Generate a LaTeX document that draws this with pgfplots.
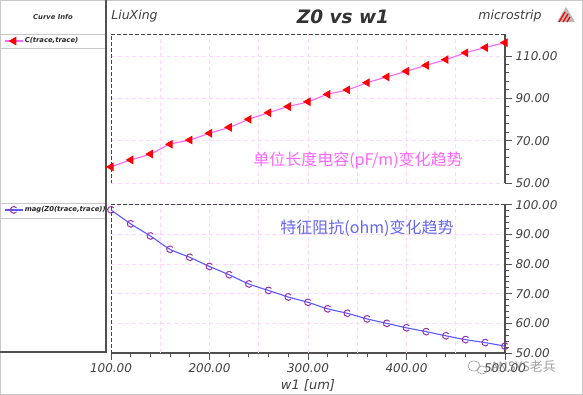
\documentclass[border=0pt]{standalone}
\usepackage{fontspec}
\setmainfont{DejaVu Sans}
\newfontfamily\cjk{Noto Sans CJK SC}
\usepackage{pgfplots}
\pgfplotsset{compat=1.18}
\definecolor{axgray}{HTML}{505050}
\definecolor{lblgray}{HTML}{404040}
\definecolor{gridpink}{HTML}{FFD6FF}
\definecolor{cmag}{HTML}{FF66FF}
\definecolor{zblue}{HTML}{5A5AFF}
\definecolor{zpurple}{HTML}{9933AA}
\definecolor{cjkblue}{HTML}{6666F0}
\definecolor{panelgray}{HTML}{C8C8C8}
\definecolor{framegray}{HTML}{454545}

\pgfdeclareplotmark{copen}{%
  \pgfpathmoveto{\pgfqpointpolar{35}{\pgfplotmarksize}}%
  \pgfpatharc{35}{325}{\pgfplotmarksize}%
  \pgfusepathqstroke}

\tikzset{
  framestyle/.style={framegray, dash pattern=on 4bp off 2bp, line width=0.9bp},
  vgrid/.style={gridpink, dash pattern=on 4bp off 3bp, line width=0.8bp},
}
\pgfplotsset{
  common/.style={
    scale only axis, width=394bp, height=149bp, anchor=south west,
    xmin=100, xmax=500,
    axis y line*=right,
    axis line style={axgray, line width=1.1bp},
    tick align=outside,
    major tick length=7bp, minor tick length=4bp,
    every tick/.style={axgray, line width=0.9bp},
    ymajorgrids, major grid style={gridpink, dash pattern=on 4bp off 3bp, line width=0.8bp},
    /pgf/number format/fixed, /pgf/number format/fixed zerofill,
    /pgf/number format/precision=2, /pgf/number format/assume math mode=true,
    tick label style={font=\itshape\fontsize{12bp}{14bp}\selectfont, text=lblgray},
    minor y tick num=4,
    legend style={draw=none, fill=none, inner sep=0pt,
      font=\bfseries\itshape\fontsize{6.8bp}{8bp}\selectfont, anchor=west,
      nodes={inner sep=1.5bp}, text=black!85},
    legend cell align=left,
    legend image code/.code={\draw[mark repeat=2, mark phase=2] plot coordinates {(0bp,0bp) (9bp,0bp) (18bp,0bp)};},
  },
}

\begin{document}
\begin{tikzpicture}
\path[use as bounding box] (0bp,0bp) rectangle (583bp,395bp);
\fill[white] (0bp,0bp) rectangle (583bp,395bp);
\draw[panelgray, line width=0.6bp] (0.3bp,0.3bp) rectangle (582.7bp,394.7bp);
% left panel
\draw[panelgray, line width=0.8bp] (0bp,361bp) -- (106bp,361bp);
\draw[panelgray, line width=0.8bp] (0bp,347bp) -- (106bp,347bp);
\draw[panelgray, line width=0.8bp] (0bp,192bp) -- (106bp,192bp);
\draw[panelgray, line width=0.8bp] (0bp,177bp) -- (106bp,177bp);
\draw[axgray, line width=1.2bp] (106bp,395bp) -- (106bp,43bp) -- (0bp,43bp);
\node[font=\bfseries\itshape\fontsize{6.8bp}{8bp}\selectfont, text=black!80] at (53bp,378bp) {Curve Info};

% top panel
\begin{axis}[common, at={(111bp,212bp)}, ymin=50, ymax=120.4,
  ytick={50,70,90,110}, axis x line=none, xtick=\empty,
  legend style={at={(axis description cs:-0.2716,0.953)}}]
\pgfplotsinvokeforeach{150,200,...,450}{\draw[vgrid] (axis cs:#1,50) -- (axis cs:#1,120.4);}
\draw[framestyle] (rel axis cs:1,1) -- (rel axis cs:0,1) -- (rel axis cs:0,0) -- (rel axis cs:1,0);
\addplot[cmag, line width=1.1bp, smooth, mark=triangle*, mark size=4bp,
  mark options={red, fill=red, rotate=90, solid}] coordinates {
(100,57.6) (120,60.9) (140,63.7) (160,68.3) (180,70.3) (200,73.5) (220,76.3)
(240,80.1) (260,83.2) (280,86.1) (300,88.4) (320,91.9) (340,94.0) (360,97.4)
(380,100.1) (400,102.8) (420,105.6) (440,108.3) (460,111.5) (480,114.0) (500,116.3)};
\addlegendentry{C(trace,trace)}
\end{axis}

% bottom panel
\begin{axis}[common, at={(111bp,42bp)}, ymin=50, ymax=100.3,
  ytick={50,60,...,100}, axis x line*=bottom,
  xtick={100,200,...,500}, minor x tick num=4,
  xlabel={w1 [um]},
  xlabel style={font=\itshape\fontsize{13bp}{15bp}\selectfont, text=lblgray},
  legend style={at={(axis description cs:-0.2716,0.96)}}]
\pgfplotsinvokeforeach{150,200,...,450}{\draw[vgrid] (axis cs:#1,50) -- (axis cs:#1,100.3);}
\draw[framestyle] (rel axis cs:1,1) -- (rel axis cs:0,1) -- (rel axis cs:0,0);
\addplot[zblue, line width=1.1bp, smooth, mark=copen, mark size=3.4bp,
  mark options={zpurple, line width=1bp, solid}] coordinates {
(100,98.3) (120,93.6) (140,89.5) (160,85.0) (180,82.3) (200,79.2) (220,76.4)
(240,73.3) (260,71.1) (280,68.9) (300,67.1) (320,64.9) (340,63.4) (360,61.5)
(380,60.0) (400,58.5) (420,57.2) (440,55.8) (460,54.5) (480,53.5) (500,52.3)};
\addlegendentry{mag(Z0(trace,trace))}
\end{axis}

% titles
\node[font=\itshape\fontsize{12.5bp}{14bp}\selectfont, text=lblgray] at (134.5bp,379bp) {LiuXing};
\node[font=\bfseries\itshape\fontsize{18.5bp}{20bp}\selectfont, text=black!80] at (343bp,378bp) {Z0 vs w1};
\node[font=\itshape\fontsize{12.5bp}{14bp}\selectfont, text=lblgray] at (510bp,379bp) {microstrip};
% logo
\fill[gray!55] (557bp,373bp) -- (575bp,373bp) -- (566bp,388bp) -- cycle;
\draw[red, line width=1.3bp] (559bp,373bp) -- (565bp,383bp);
\draw[red, line width=1.3bp] (563bp,373bp) -- (568bp,381bp);
\draw[red, line width=1.3bp] (567bp,373bp) -- (570bp,378bp);

% annotations
\node[font=\cjk\fontsize{16bp}{18bp}\selectfont, text=cmag] at (358bp,234bp) {单位长度电容(pF/m)变化趋势};
\node[font=\cjk\fontsize{16bp}{18bp}\selectfont, text=cjkblue] at (367bp,167bp) {特征阻抗(ohm)变化趋势};

% watermark
\draw[gray!70, line width=0.7bp] (474bp,29bp) ellipse (6bp and 5bp);
\draw[gray!70, line width=0.7bp] (482bp,25bp) ellipse (5bp and 4bp);
\node[font=\cjk\fontsize{13bp}{15bp}\selectfont, text=gray, opacity=0.75, anchor=west] at (487bp,28bp) {ANSYS老兵};
\end{tikzpicture}
\end{document}
